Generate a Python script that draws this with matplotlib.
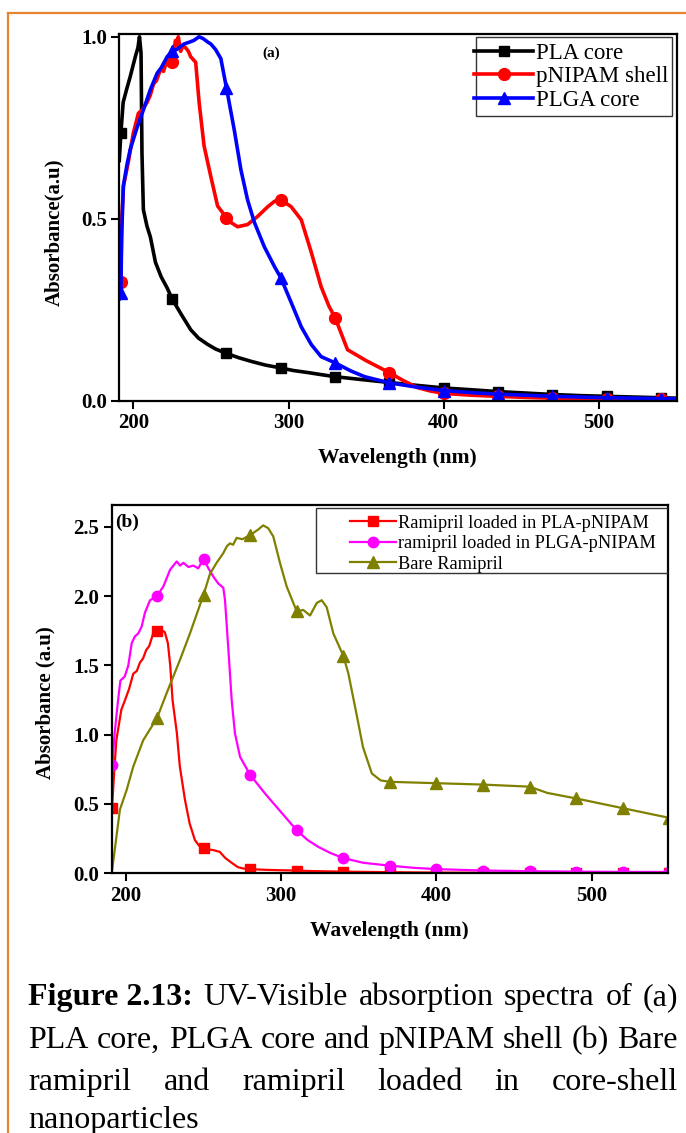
import numpy as np
import matplotlib
matplotlib.use("Agg")
import matplotlib.pyplot as plt
from matplotlib.patches import Rectangle
from matplotlib.lines import Line2D

plt.rcParams['font.family'] = ['Liberation Serif', 'DejaVu Serif']

# ---------------- Panel (a) data ----------------
wl_pla = [191, 192, 193.5, 196, 198, 201.3, 203, 204, 205, 205.6, 206.5, 208.8, 211, 214.3, 218, 221.8,
          225, 230.5, 237, 242, 247.8, 253, 260, 268, 276, 285, 295, 303, 313, 322, 330, 345, 365, 383,
          400, 418, 435, 453, 470, 488, 505, 523, 540, 550]
abs_pla = [0.66, 0.735, 0.82, 0.86, 0.89, 0.945, 0.97, 1.0, 0.955, 0.68, 0.525, 0.48, 0.45, 0.38, 0.34, 0.31,
           0.28, 0.24, 0.195, 0.172, 0.155, 0.142, 0.13, 0.118, 0.108, 0.098, 0.09, 0.083, 0.077, 0.071, 0.066,
           0.059, 0.05, 0.042, 0.035, 0.03, 0.025, 0.021, 0.017, 0.014, 0.012, 0.01, 0.008, 0.007]

wl_pnipam = [191, 192, 192.6, 193.7, 197, 200, 203.3, 206, 208.9, 211, 213, 215, 217.5, 219.5, 221.8, 223.5,
             225, 226, 227.2, 228.2, 229, 230.5, 232, 233.7, 235.5, 237, 240.2, 242.4, 245.6, 250, 254.3, 260,
             263.5, 267.2, 273.6, 280, 286.6, 291, 295, 301.7, 308.2, 314.7, 321, 326, 330, 338, 343.6, 350,
             355, 365, 374, 383, 391, 400, 418, 435, 453, 470, 488, 505, 523, 540, 550]
abs_pnipam = [0.30, 0.325, 0.50, 0.59, 0.66, 0.735, 0.79, 0.80, 0.82, 0.84, 0.87, 0.88, 0.91, 0.905, 0.937, 0.95,
              0.93, 0.96, 0.99, 0.975, 1.0, 0.96, 0.975, 0.97, 0.96, 0.945, 0.93, 0.82, 0.70, 0.615, 0.535, 0.503,
              0.488, 0.478, 0.484, 0.506, 0.533, 0.548, 0.552, 0.533, 0.497, 0.407, 0.313, 0.26, 0.228, 0.14,
              0.126, 0.11, 0.099, 0.077, 0.055, 0.036, 0.027, 0.02, 0.015, 0.012, 0.009, 0.007, 0.006, 0.005,
              0.004, 0.004, 0.004]

wl_plga = [191, 192, 192.5, 193.6, 196, 198, 202.4, 206.6, 211, 215.4, 218, 221.8, 225, 228, 232.6, 236, 239,
           242.4, 245, 247.8, 250, 253, 256.4, 260, 265, 269.3, 273.6, 278, 284.4, 291, 295, 301.7, 308.2,
           314.7, 321, 330, 340, 349, 365, 383, 400, 418, 435, 453, 470, 488, 505, 523, 540, 550]
abs_plga = [0.28, 0.297, 0.45, 0.59, 0.65, 0.69, 0.75, 0.80, 0.855, 0.90, 0.915, 0.945, 0.96, 0.965, 0.98, 0.985,
            0.99, 1.0, 0.995, 0.986, 0.98, 0.965, 0.94, 0.86, 0.745, 0.635, 0.552, 0.49, 0.423, 0.368, 0.338,
            0.27, 0.203, 0.154, 0.121, 0.104, 0.082, 0.066, 0.049, 0.037, 0.028, 0.022, 0.018, 0.015, 0.012,
            0.01, 0.008, 0.007, 0.006, 0.005]

marks_a = [192, 225, 260, 295, 330, 365, 400, 435, 470, 505, 540]

# ---------------- Panel (b) data ----------------
wl_pla_np = [191, 192.5, 193.8, 197, 199.4, 202, 204.7, 207, 209, 211, 213, 215, 217.5, 220, 222, 225, 227,
             228.5, 230, 232.8, 234.7, 238, 241, 244.4, 247, 250, 253, 256, 260.4, 264, 268.8, 272, 275.3, 280,
             290, 300, 310, 320, 340, 370, 400, 430, 460, 490, 520, 550]
abs_pla_np = [0.47, 0.75, 0.96, 1.18, 1.25, 1.33, 1.44, 1.46, 1.52, 1.55, 1.61, 1.64, 1.73, 1.75, 1.76, 1.74,
              1.66, 1.50, 1.25, 1.01, 0.77, 0.53, 0.36, 0.24, 0.20, 0.18, 0.172, 0.168, 0.155, 0.11, 0.07, 0.045,
              0.035, 0.03, 0.025, 0.022, 0.02, 0.016, 0.012, 0.008, 0.005, 0.004, 0.003, 0.003, 0.003, 0.003]
marks_pla_np = [191, 220, 250, 280, 310, 340, 370, 400, 430, 460, 490, 520, 550]

wl_plga_np = [191.2, 192.7, 194.9, 196.4, 199.2, 201.5, 203.7, 205.8, 207.9, 210.1, 212.2, 215.5, 220, 224.1,
              228.4, 232.7, 234.8, 237, 240.2, 243.4, 246.6, 250, 253.1, 256.3, 259.5, 262.7, 263.8, 266, 268.1,
              270.2, 273.5, 280, 290, 300, 310, 317, 324, 332, 340, 352.8, 370, 385, 400, 430, 460, 490, 520, 550]
abs_plga_np = [0.78, 1.01, 1.25, 1.39, 1.42, 1.50, 1.66, 1.71, 1.73, 1.78, 1.88, 1.97, 2.0, 2.07, 2.19, 2.25,
               2.22, 2.24, 2.21, 2.22, 2.20, 2.27, 2.20, 2.14, 2.09, 2.06, 1.97, 1.61, 1.25, 1.01, 0.84, 0.71,
               0.57, 0.44, 0.31, 0.24, 0.19, 0.145, 0.11, 0.076, 0.055, 0.04, 0.03, 0.02, 0.015, 0.012, 0.01, 0.01]
marks_plga_np = [191.2, 220, 250, 280, 310, 340, 370, 400, 430, 460, 490, 520, 550]

wl_bare = [190.8, 196.1, 200.4, 204.7, 211.1, 220, 226.2, 230.5, 234.8, 241.2, 250, 254.1, 258.4, 262.7, 265,
           267, 269, 271.3, 275, 280, 285.2, 288.4, 291.6, 294.9, 299.2, 303.5, 310, 314.2, 318.6, 322.9, 326.1,
           329.3, 333.6, 340, 343.3, 348.5, 352.7, 358.4, 364.1, 370, 400, 430, 460, 471.4, 490, 520, 550]
abs_bare = [0.0, 0.46, 0.60, 0.77, 0.96, 1.12, 1.30, 1.42, 1.54, 1.73, 2.01, 2.16, 2.24, 2.31, 2.36, 2.38, 2.37,
            2.42, 2.41, 2.44, 2.48, 2.51, 2.49, 2.43, 2.24, 2.07, 1.89, 1.90, 1.86, 1.95, 1.97, 1.92, 1.73, 1.57,
            1.44, 1.15, 0.91, 0.72, 0.67, 0.66, 0.65, 0.64, 0.625, 0.58, 0.54, 0.47, 0.40]
marks_bare = [220, 250, 280, 310, 340, 370, 400, 430, 460, 490, 520, 550]

labels_a = ["PLA core", "pNIPAM shell", "PLGA core"]
labels_b = ["Ramipril loaded in PLA-pNIPAM", "ramipril loaded in PLGA-pNIPAM", "Bare Ramipril"]
xticks = [200, 300, 400, 500]

caption_lines = [
    [("Figure 2.13:", True), ("UV-Visible", False), ("absorption", False), ("spectra", False), ("of", False), ("(a)", False)],
    [("PLA", False), ("core,", False), ("PLGA", False), ("core", False), ("and", False), ("pNIPAM", False),
     ("shell", False), ("(b)", False), ("Bare", False)],
    [("ramipril", False), ("and", False), ("ramipril", False), ("loaded", False), ("in", False), ("core-shell", False)],
    [("nanoparticles", False)],
]

# ---------------- Figure ----------------
W, H = 686, 1133
fig = plt.figure(figsize=(W / 100, H / 100), dpi=100)


def fx(px):
    return px / W


def fy(py):
    return 1 - py / H


def idx(xs, marks):
    return [i for i, v in enumerate(xs) if v in marks]


def style_axes(ax):
    for s in ax.spines.values():
        s.set_linewidth(1.6)
        s.set_color('black')
    ax.tick_params(direction='out', length=6, width=1.5, labelsize=15, pad=3, top=False, right=False)
    for lab in ax.get_xticklabels() + ax.get_yticklabels():
        lab.set_fontweight('bold')


# Panel (a)
axa = fig.add_axes([fx(119.3), fy(400.7), fx(676.7) - fx(119.3), fy(33.5) - fy(400.7)])
series_a = [
    (wl_pla, abs_pla, 'black', 's', 7.5),
    (wl_pnipam, abs_pnipam, '#ff0000', 'o', 8.5),
    (wl_plga, abs_plga, '#0000ff', '^', 8.5),
]
handles_a = []
for (x, y, c, m, ms), lab in zip(series_a, labels_a):
    axa.plot(x, y, color=c, lw=2.6, marker=m, ms=ms, markevery=idx(x, marks_a))
    handles_a.append(Line2D([], [], color=c, lw=2.6, marker=m, ms=ms))
axa.set_xlim(191, 550)
axa.set_ylim(0, 1.009)
axa.set_xticks(xticks)
axa.set_yticks([0.0, 0.5, 1.0])
style_axes(axa)
# legend frame (a)
axa.add_patch(Rectangle((0.640, 0.775), 0.352, 0.216, transform=axa.transAxes, fill=False,
                        ec='#333333', lw=1.0, zorder=5))
axa.legend(handles_a, labels_a, loc='center left', bbox_to_anchor=(0.636, 0.882), frameon=False,
           fontsize=16.5, borderpad=0, borderaxespad=0, handlelength=2.6, handletextpad=0.12,
           labelspacing=0.12)
fig.text(fx(271), fy(53), "(a)", fontsize=11, fontweight='bold', ha='center', va='center')
fig.text(fx(54), fy(232), "Absorbance(a.u)", fontsize=15, fontweight='bold', rotation=90,
         ha='center', va='center')
fig.text(fx(397), fy(458), "Wavelength (nm)", fontsize=15.5, fontweight='bold', ha='center', va='center')

# Panel (b)
axb = fig.add_axes([fx(111.7), fy(873.3), fx(668.3) - fx(111.7), fy(505) - fy(873.3)])
series_b = [
    (wl_pla_np, abs_pla_np, marks_pla_np, '#ff0000', 's', 7),
    (wl_plga_np, abs_plga_np, marks_plga_np, '#ff00ff', 'o', 7.5),
    (wl_bare, abs_bare, marks_bare, '#808000', '^', 8),
]
handles_b = []
for (x, y, mk, c, m, ms), lab in zip(series_b, labels_b):
    axb.plot(x, y, color=c, lw=1.6, marker=m, ms=ms, markevery=idx(x, mk))
    handles_b.append(Line2D([], [], color=c, lw=1.6, marker=m, ms=ms))
axb.set_xlim(190.8, 549.4)
axb.set_ylim(0, 2.657)
axb.set_xticks(xticks)
axb.set_yticks([0.0, 0.5, 1.0, 1.5, 2.0, 2.5])
style_axes(axb)
axb.add_patch(Rectangle((0.367, 0.8146), 0.633, 0.1774, transform=axb.transAxes, fill=False,
                        ec='#333333', lw=1.0, zorder=5))
axb.legend(handles_b, labels_b, loc='center left', bbox_to_anchor=(0.428, 0.895), frameon=False,
           fontsize=13.2, borderpad=0, borderaxespad=0, handlelength=2.5, handletextpad=0.1,
           labelspacing=0.2)
fig.text(fx(127), fy(522), "(b)", fontsize=14, fontweight='bold', ha='center', va='center')
fig.text(fx(45), fy(703), "Absorbance (a.u)", fontsize=15, fontweight='bold', rotation=90,
         ha='center', va='center')
fig.text(fx(389), fy(931), "Wavelength (nm)", fontsize=15.5, fontweight='bold', ha='center', va='center')
# the source image cuts off the bottom of this label
fig.patches.append(Rectangle((fx(280), fy(960)), fx(220), fy(939) - fy(960), transform=fig.transFigure,
                             facecolor='white', edgecolor='none', zorder=10))

# Orange page border
fig.add_artist(Line2D([fx(8), fx(8)], [fy(13), fy(1133)], color='#e8842f', lw=1.6, transform=fig.transFigure))
fig.add_artist(Line2D([fx(8), fx(686)], [fy(13), fy(13)], color='#e8842f', lw=1.6, transform=fig.transFigure))

# Caption (justified)
renderer = fig.canvas.get_renderer()
cap_size = 23
x0, x1 = 28.5, 678
baselines = [1005, 1048, 1090, 1128]
for li, (words, yb) in enumerate(zip(caption_lines, baselines)):
    texts, widths = [], []
    for w, bold in words:
        t = fig.text(0, fy(yb), w, fontsize=cap_size, fontweight='bold' if bold else 'normal',
                     ha='left', va='baseline')
        widths.append(t.get_window_extent(renderer=renderer).width)
        texts.append(t)
    if len(words) > 1 and li < len(caption_lines) - 1:
        gap = (x1 - x0 - sum(widths)) / (len(words) - 1)
    else:
        gap = 7
    x = x0
    for t, wd in zip(texts, widths):
        t.set_x(fx(x))
        x += wd + gap

fig.savefig("out.png", dpi=100)
